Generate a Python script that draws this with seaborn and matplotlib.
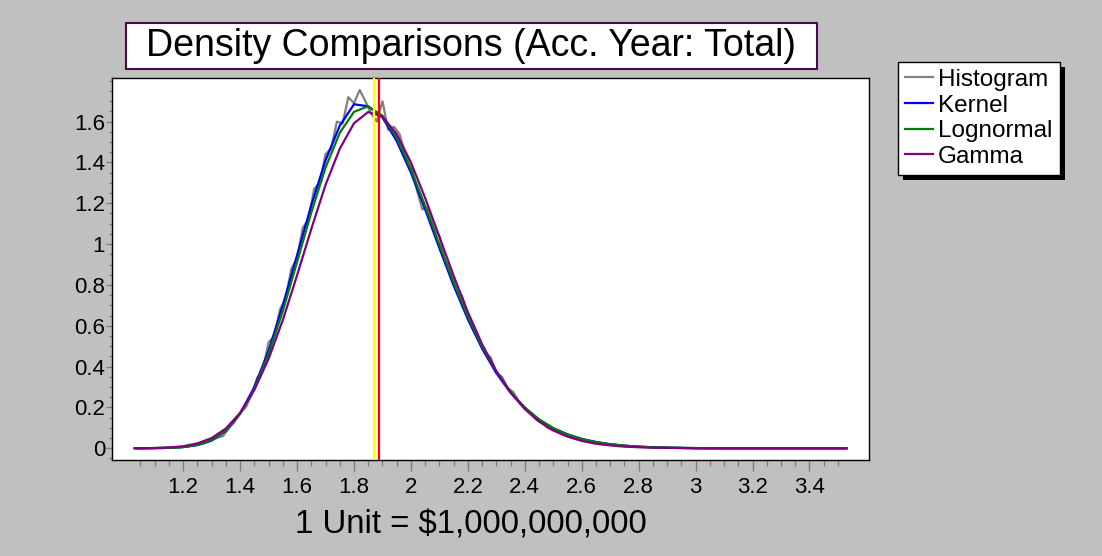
import numpy as np
import pandas as pd
import seaborn as sns
import matplotlib
matplotlib.use("Agg")
import matplotlib.pyplot as plt
from matplotlib.patches import Rectangle
from matplotlib.ticker import FixedLocator, FuncFormatter

plt.rcParams["font.family"] = ["Liberation Sans", "DejaVu Sans"]

# ---------------------------------------------------------------------------
# Data (loss amount in units of $1,000,000,000 vs. density)
# ---------------------------------------------------------------------------
# Empirical histogram, sampled every 0.02 units starting at 1.04
hist_start, hist_step = 1.04, 0.02
hist_density = [
    0.000, 0.000, 0.000, 0.001, 0.001, 0.002, 0.003, 0.004, 0.006, 0.009,
    0.013, 0.019, 0.027, 0.039, 0.052, 0.060, 0.098, 0.128, 0.175, 0.200,
    0.262, 0.345, 0.385, 0.520, 0.548, 0.680, 0.735, 0.880, 0.930, 1.080,
    1.120, 1.270, 1.300, 1.440, 1.470, 1.600, 1.590, 1.720, 1.690, 1.755,
    1.700, 1.640, 1.600, 1.700, 1.560, 1.575, 1.540, 1.440, 1.395, 1.270,
    1.170, 1.180, 1.080, 1.040, 0.920, 0.880, 0.770, 0.745, 0.640, 0.575,
    0.530, 0.465, 0.445, 0.370, 0.350, 0.295, 0.275, 0.225, 0.200, 0.170,
    0.140, 0.125, 0.100, 0.090, 0.080, 0.068, 0.058, 0.050, 0.044, 0.036,
    0.032, 0.027, 0.022, 0.019, 0.016, 0.013, 0.011, 0.009, 0.008, 0.006,
    0.005, 0.004, 0.003, 0.003, 0.002, 0.002, 0.001, 0.001, 0.000, 0.000,
    0.000, 0.000, 0.000, 0.000, 0.000, 0.000, 0.000, 0.000, 0.000, 0.000,
    0.000, 0.000, 0.000, 0.000, 0.000, 0.000, 0.000, 0.000, 0.000, 0.000,
    0.000, 0.000, 0.000, 0.000, 0.000,
]

# Fitted densities: 1.03, then 1.05 ... 3.50 every 0.05, then 3.53
fit_x = [1.03] + [round(1.05 + 0.05 * i, 2) for i in range(50)] + [3.53]

kernel_density = [
    0.000,
    0.000, 0.001, 0.002, 0.006, 0.016, 0.038, 0.085, 0.170, 0.300, 0.478,
    0.700, 0.945, 1.190, 1.410, 1.580, 1.685, 1.675, 1.620, 1.505, 1.350,
    1.170, 0.980, 0.797, 0.632, 0.488, 0.368, 0.272, 0.197, 0.140, 0.098,
    0.068, 0.046, 0.031, 0.020, 0.013, 0.008, 0.005, 0.003, 0.002, 0.001,
    0.000, 0.000, 0.000, 0.000, 0.000, 0.000, 0.000, 0.000, 0.000, 0.000,
    0.000,
]

lognormal_density = [
    0.000,
    0.000, 0.001, 0.002, 0.006, 0.017, 0.041, 0.088, 0.168, 0.291, 0.461,
    0.672, 0.912, 1.155, 1.374, 1.545, 1.648, 1.675, 1.629, 1.521, 1.367,
    1.187, 0.997, 0.813, 0.645, 0.498, 0.376, 0.277, 0.200, 0.142, 0.099,
    0.068, 0.045, 0.030, 0.020, 0.013, 0.008, 0.005, 0.003, 0.002, 0.001,
    0.001, 0.000, 0.000, 0.000, 0.000, 0.000, 0.000, 0.000, 0.000, 0.000,
    0.000,
]

gamma_density = [
    0.000,
    0.000, 0.001, 0.004, 0.010, 0.024, 0.050, 0.097, 0.173, 0.286, 0.438,
    0.628, 0.847, 1.074, 1.290, 1.467, 1.592, 1.647, 1.625, 1.539, 1.400,
    1.226, 1.036, 0.845, 0.667, 0.510, 0.378, 0.273, 0.192, 0.131, 0.087,
    0.057, 0.036, 0.022, 0.014, 0.008, 0.005, 0.003, 0.002, 0.001, 0.000,
    0.000, 0.000, 0.000, 0.000, 0.000, 0.000, 0.000, 0.000, 0.000, 0.000,
    0.000,
]

median_loss = 1.871
mean_loss = 1.889

x_tick_values = [1.2, 1.4, 1.6, 1.8, 2.0, 2.2, 2.4, 2.6, 2.8, 3.0, 3.2, 3.4]
y_tick_values = [0.0, 0.2, 0.4, 0.6, 0.8, 1.0, 1.2, 1.4, 1.6]

# ---------------------------------------------------------------------------
hist_x = [round(hist_start + hist_step * i, 2) for i in range(len(hist_density))]
hist_df = pd.DataFrame({"x": hist_x, "density": hist_density})
fit_df = pd.DataFrame({
    "x": fit_x,
    "Kernel": kernel_density,
    "Lognormal": lognormal_density,
    "Gamma": gamma_density,
})

W, H = 1102, 556
BG = "#C0C0C0"
fig = plt.figure(figsize=(W / 100, H / 100), dpi=100, facecolor=BG)
ax = fig.add_axes([112 / W, 1 - 460 / H, (869 - 112) / W, (460 - 78) / H])
ax.set_facecolor("white")

lw = 1.6
sns.lineplot(data=hist_df, x="x", y="density", ax=ax, color="#808080",
             lw=lw, label="Histogram", estimator=None, sort=False)
series_colors = {"Kernel": "#0000FF", "Lognormal": "#008000", "Gamma": "#800080"}
for name, col in series_colors.items():
    sns.lineplot(data=fit_df, x="x", y=name, ax=ax, color=col, lw=lw,
                 label=name, estimator=None, sort=False)

ax.axvline(median_loss, color="#FFFF00", lw=1.6, zorder=4)
ax.axvline(mean_loss, color="#FF0000", lw=1.6, zorder=4)

ax.set_xlim(0.95, 3.609)
ax.set_ylim(-0.0574, 1.8137)
ax.set_xlabel("")
ax.set_ylabel("")

fmt = FuncFormatter(lambda v, p: f"{v:g}")
ax.xaxis.set_major_locator(FixedLocator(x_tick_values))
ax.xaxis.set_minor_locator(FixedLocator([round(1.05 + 0.05 * i, 2) for i in range(50)]))
ax.yaxis.set_major_locator(FixedLocator(y_tick_values))
ax.yaxis.set_minor_locator(FixedLocator([round(-0.05 + 0.05 * i, 2) for i in range(38)]))
ax.xaxis.set_major_formatter(fmt)
ax.yaxis.set_major_formatter(fmt)

ax.tick_params(axis="x", which="major", direction="out", length=8, width=1,
               color="#808080", labelcolor="black", labelsize=16, pad=4)
ax.tick_params(axis="x", which="minor", direction="out", length=4, width=1,
               color="#808080")
ax.tick_params(axis="y", which="major", direction="out", length=4, width=1,
               color="#808080", labelcolor="black", labelsize=16, pad=1)
ax.tick_params(axis="y", which="minor", direction="out", length=2.5, width=1,
               color="#808080")
for side in ["left", "bottom", "top", "right"]:
    ax.spines[side].set_color("black")
    ax.spines[side].set_linewidth(1.0)

# Title box
fig.add_artist(Rectangle((126 / W, 1 - 69.3 / H), (817 - 126) / W, 46.6 / H,
                         transform=fig.transFigure, facecolor="white",
                         edgecolor="#4B0A4B", lw=1.5, zorder=3))
fig.text(471.5 / W, 1 - 46 / H, "Density Comparisons (Acc. Year: Total)",
         ha="center", va="center", fontsize=27, zorder=4)

# Axis caption
fig.text(471 / W, 1 - 525 / H, "1 Unit = $1,000,000,000",
         ha="center", va="center", fontsize=23.8)

# Legend with a hard drop shadow
handles, labels = ax.get_legend_handles_labels()
if ax.get_legend() is not None:
    ax.get_legend().remove()
leg = fig.legend(handles, labels, loc="upper left",
                 bbox_to_anchor=(898 / W, 1 - 61.7 / H),
                 bbox_transform=fig.transFigure, borderaxespad=0,
                 frameon=True, fancybox=False, edgecolor="black",
                 facecolor="white", framealpha=1, fontsize=17.5,
                 handlelength=1.15, handletextpad=0.2, labelspacing=0.15,
                 borderpad=0.3)
leg.get_frame().set_linewidth(1.0)
leg.set_zorder(6)

fig.canvas.draw()
bb = leg.get_window_extent()
inv = fig.transFigure.inverted()
(x0, y0), (x1, y1) = inv.transform([(bb.x0 + 5, bb.y0 - 5), (bb.x1 + 5, bb.y1 - 5)])
fig.add_artist(Rectangle((x0, y0), x1 - x0, y1 - y0, transform=fig.transFigure,
                         facecolor="black", edgecolor="none", zorder=5))

fig.savefig("out.png", dpi=100, facecolor=BG)
